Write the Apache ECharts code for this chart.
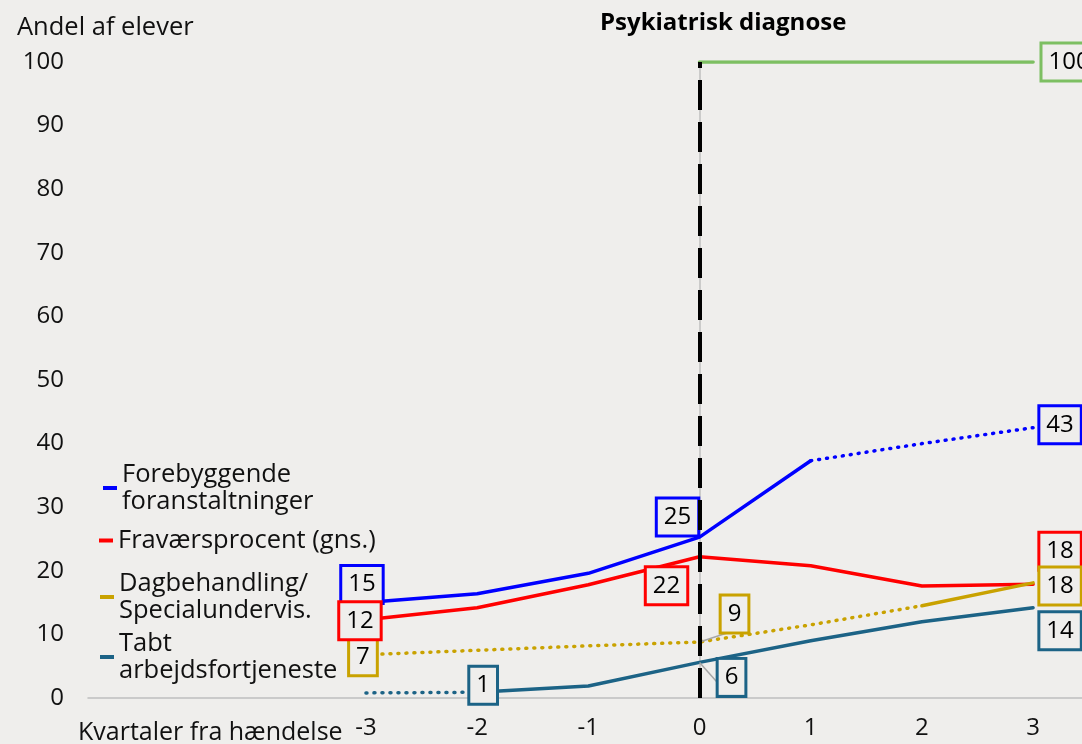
<!DOCTYPE html>
<html>
<head>
<meta charset="utf-8">
<title>Psykiatrisk diagnose</title>
<script src="https://cdn.jsdelivr.net/npm/echarts@6/dist/echarts.min.js"></script>
<style>
    html, body { margin: 0; padding: 0; background: #efeeec; }
    #myChart { width: 1082px; height: 744px; }
</style>
</head>
<body>
<div id="myChart"></div>
<script>
    // data (kvartaler fra hændelse)
    var quarters = [-3, -2, -1, 0, 1, 2, 3];
    var forebyggende = [15, 16.4, 19.6, 25.3, 37.3, 40, 42.5];
    var fravaer = [12.3, 14.2, 17.8, 22.2, 20.8, 17.6, 17.9];
    var dagbehandling = [6.8, 7.5, 8.2, 8.8, 11.5, 14.5, 18.1];
    var tabt = [0.8, 0.9, 1.9, 5.6, 9, 12, 14.2];
    var diagnose = [null, null, null, 100, 100, 100, 100];
    var yTicks = [0, 10, 20, 30, 40, 50, 60, 70, 80, 90, 100];

    var FONT = '"Open Sans", "Noto Sans", sans-serif';
    var BG = '#efeeec';
    var myChart;

    window.onload = function() {
        init();
    };

    function init() {
        getMyChart();
        myChart.setOption(buildOption());
    }

    function getMyChart() {
        if (typeof myChart !== 'undefined') { return myChart; }
        myChart = echarts.init(document.getElementById('myChart'));
        return myChart;
    }

    // punkt -> [x, y] for value-akse
    function points(values, from, to) {
        var out = [];
        for (var i = from; i <= to; i++) {
            if (values[i] === null) { continue; }
            out.push({ value: [quarters[i], values[i]], idx: i });
        }
        return out;
    }

    function boxLabel(color, offset) {
        return {
            show: true,
            position: 'inside',
            offset: offset,
            formatter: function(p) { return Math.round(p.value[1]); },
            color: '#000',
            fontFamily: FONT,
            fontSize: 24,
            lineHeight: 26,
            backgroundColor: BG,
            borderColor: color,
            borderWidth: 3,
            padding: [5, 6, 4, 6]
        };
    }

    /*
     * en serie splittes i fuld / prikket del
     */
    function lineSeries(name, values, color, solid, dotted, labels) {
        var list = [];
        var parts = [{ range: solid, type: 'solid' }];
        if (dotted) { parts.push({ range: dotted, type: [1, 7] }); }
        parts.forEach(function(part, k) {
            var data = points(values, part.range[0], part.range[1]).map(function(pt) {
                var item = { value: pt.value };
                var lab = labels[pt.idx];
                var inSolid = pt.idx >= solid[0] && pt.idx <= solid[1];
                if (lab && (k === 0 || !inSolid)) {
                    item.label = boxLabel(color, lab.offset);
                    if (lab.guide) {
                        item.labelLine = { show: true, lineStyle: { color: '#a6a6a6', width: 1.5 } };
                    }
                }
                return item;
            });
            list.push({
                name: name,
                type: 'line',
                data: data,
                color: color,
                symbol: 'circle',
                symbolSize: 0.1,
                itemStyle: { color: color },
                lineStyle: { color: color, width: 3.5, type: part.type, cap: 'round' },
                z: k === 0 ? 3 : 2,
                silent: true,
                animation: false
            });
        });
        return list;
    }

    function legendAt(name, left, top) {
        return {
            data: [name],
            left: left,
            top: top,
            padding: 0,
            icon: 'rect',
            itemWidth: 14,
            itemHeight: 4,
            textStyle: { fontFamily: FONT, fontSize: 25.5, lineHeight: 27, color: '#111' },
            selectedMode: false
        };
    }

    function textTitle(text, left, top, size, weight) {
        return {
            text: text, left: left, top: top, padding: 0,
            textStyle: { fontFamily: FONT, fontSize: size, fontWeight: weight, color: weight === 'bold' ? '#000' : '#111' }
        };
    }

    function buildOption() {
        var series = [];
        series = series.concat(lineSeries('Forebyggende\nforanstaltninger', forebyggende, '#0000ff',
            [0, 4], [4, 6],
            { 0: { offset: [-4, -18] }, 3: { offset: [-22, -20] }, 6: { offset: [27, -3] } }));
        series = series.concat(lineSeries('Fraværsprocent (gns.)', fravaer, '#ff0000',
            [0, 6], null,
            { 0: { offset: [-6, 1] }, 3: { offset: [-33, 29] }, 6: { offset: [27, -33] } }));
        series = series.concat(lineSeries('Dagbehandling/\nSpecialundervis.', dagbehandling, '#c9a200',
            [5, 6], [0, 5],
            { 0: { offset: [-3, 2] }, 3: { offset: [35, -28], guide: true }, 6: { offset: [27, 3] } }));
        series = series.concat(lineSeries('Tabt\narbejdsfortjeneste', tabt, '#1c6386',
            [1, 6], [0, 1],
            { 1: { offset: [6, -7] }, 3: { offset: [32, 15], guide: true }, 6: { offset: [27, 23] } }));

        var green = lineSeries('Psykiatrisk diagnose', diagnose, '#7dbf62', [3, 6], null,
            { 6: { offset: [36, 0] } })[0];
        green.markLine = {
            silent: true,
            symbol: 'none',
            label: { show: false },
            lineStyle: { color: '#000', width: 4, type: [30, 12] },
            data: [{ xAxis: 0 }]
        };
        series.push(green);

        return {
            backgroundColor: BG,
            animation: false,
            title: [
                textTitle('Psykiatrisk diagnose', 600, 11, 24, 'bold'),
                textTitle('Andel af elever', 17, 15, 25.5, 'normal'),
                textTitle('Kvartaler fra hændelse', 78, 720, 25, 'normal')
            ],
            legend: [
                legendAt('Forebyggende\nforanstaltninger', 103, 461),
                legendAt('Fraværsprocent (gns.)', 99, 527),
                legendAt('Dagbehandling/\nSpecialundervis.', 100, 570),
                legendAt('Tabt\narbejdsfortjeneste', 100, 630)
            ],
            grid: { left: 88, right: 0, top: 62, bottom: 46 },
            xAxis: {
                type: 'value',
                min: -5.5,
                max: 3.44,
                interval: 0.5,
                splitLine: { show: false },
                axisTick: { show: false },
                axisLine: { lineStyle: { color: '#bfbfbf', width: 1.5 } },
                axisLabel: {
                    margin: 18,
                    fontFamily: FONT,
                    fontSize: 24,
                    color: '#111',
                    showMaxLabel: false,
                    formatter: function(v) {
                        return (quarters.indexOf(v) >= 0) ? String(v) : '';
                    }
                }
            },
            yAxis: {
                type: 'value',
                min: yTicks[0],
                max: yTicks[yTicks.length - 1],
                interval: 10,
                splitLine: { show: false },
                axisTick: { show: false },
                axisLine: { show: true, lineStyle: { color: '#bfbfbf', width: 1.5 } },
                axisLabel: { margin: 24, fontFamily: FONT, fontSize: 24, color: '#111' }
            },
            series: series
        };
    }
</script>
</body>
</html>
